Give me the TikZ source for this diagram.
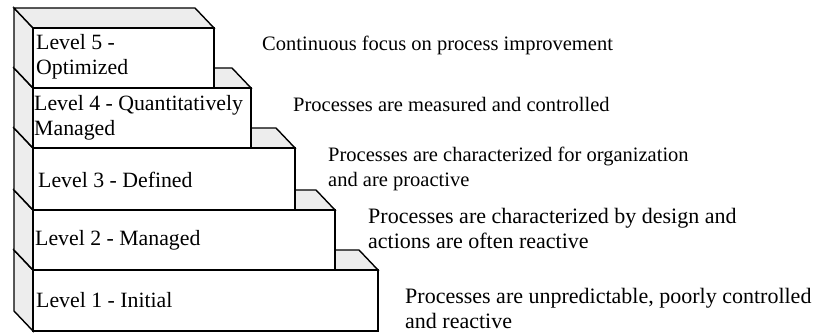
\documentclass[tikz,border=0pt]{standalone}
\usepackage{fontspec}
\setmainfont{Liberation Serif}
\usetikzlibrary{calc}
\definecolor{facegray}{gray}{0.93}
\tikzset{
	face/.style={draw=black, line width=1.4pt, line join=miter, fill=facegray},
	frontface/.style={draw=black, line width=1.4pt, fill=white},
	lvltext/.style={anchor=west, inner sep=0pt, align=left, font=\fontsize{21.8}{25}\selectfont},
	smalltext/.style={lvltext, font=\fontsize{20.5}{25}\selectfont},
	bigtext/.style={lvltext, font=\fontsize{22}{25}\selectfont},
}
% #1 right edge, #2 top, #3 bottom of the front face
\newcommand{\levelbox}[3]{%
	\filldraw[face] (33,#2) -- (14,#2-20) -- (14,#3-20) -- (33,#3) -- cycle;
	\filldraw[face] (33,#2) -- (14,#2-20) -- (#1-19,#2-20) -- (#1,#2) -- cycle;
	\filldraw[frontface] (33,#2) rectangle (#1,#3);
}
\begin{document}
\begin{tikzpicture}[x=1pt,y=-1pt]
	    \useasboundingbox (0,0) rectangle (813,334);

	    \levelbox{378}{270}{331}
	    \levelbox{335}{210}{270}
	    \levelbox{295}{148}{210}
	    \levelbox{251}{88}{148}
	    \levelbox{214}{28}{88}

	    \node[lvltext] (l5) at (36,57) {Level 5 -\\Optimized};
	    \node[lvltext] (l4) at (34,118) {Level 4 - Quantitatively\\Managed};
	    \node[lvltext] (l3) at (38,180) {Level 3 - Defined};
	    \node[lvltext] (l2) at (35,240) {Level 2 - Managed};
	    \node[lvltext] (l1) at (36,300) {Level 1 - Initial};

	    \node[smalltext] (d5) at (262,45) {Continuous focus on process improvement};
	    \node[smalltext] (d4) at (293,104) {Processes are measured and controlled};
	    \node[smalltext] (d3) at (328,169) {Processes are characterized for organization\\and are proactive};
	    \node[bigtext] (d2) at (368,228) {Processes are characterized by design and\\actions are often reactive};
	    \node[bigtext] (d1) at (405,308) {Processes are unpredictable, poorly controlled\\and reactive};
\end{tikzpicture}
\end{document}
